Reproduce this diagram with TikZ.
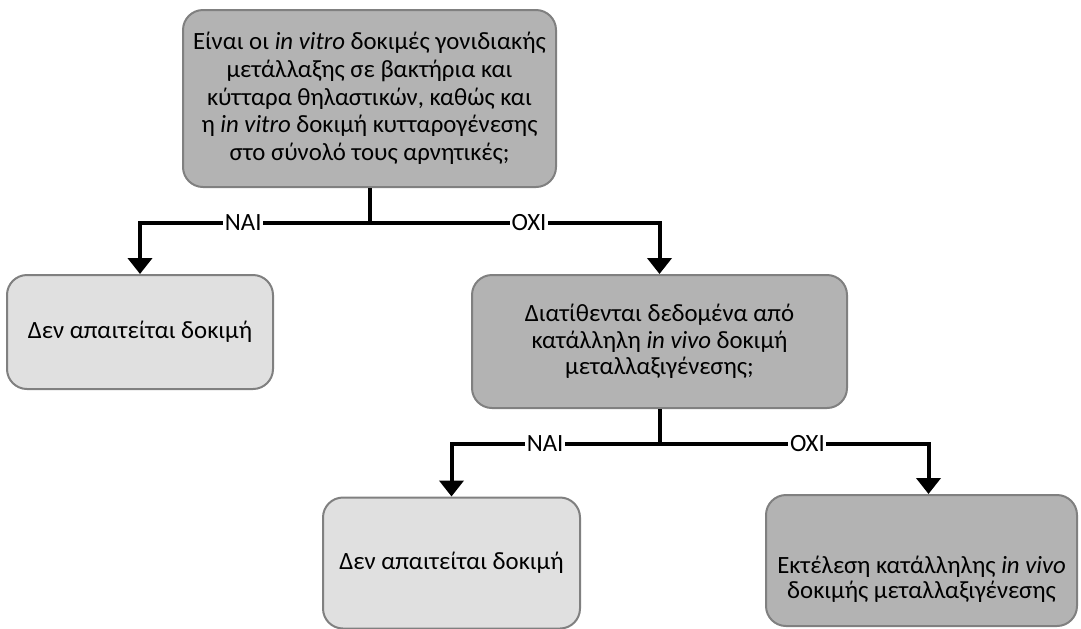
\documentclass[tikz,border=0pt]{standalone}
\usepackage{fontspec}
\setmainfont{Carlito}
\usetikzlibrary{arrows.meta, positioning}

\definecolor{boxdark}{RGB}{179,179,179}
\definecolor{boxlight}{RGB}{224,224,224}
\definecolor{boxline}{RGB}{128,128,128}

\tikzset{
  question/.style={draw=boxline, line width=1pt, rounded corners=10pt, fill=boxdark,
    align=center, inner sep=0pt, font=\fontsize{12.4pt}{13.85pt}\selectfont},
  result/.style={question, fill=boxlight},
  flow/.style={line width=2pt, -{Triangle[width=12pt,length=8pt]}},
  stem/.style={line width=2pt},
  answer/.style={fill=white, inner xsep=0.8pt, inner ysep=1pt, pos=0.275,
    font=\fontsize{12.4pt}{13pt}\selectfont}
}

\begin{document}
\begin{tikzpicture}[x=0.5pt, y=-0.5pt]
  \useasboundingbox (0,0) rectangle (1081,628);

  % Question boxes
  \node[question, minimum width=186.5pt, minimum height=88.5pt] (test) at (369.5,98.5)
    {Είναι οι \textit{in vitro} δοκιμές γονιδιακής\\
     μετάλλαξης σε βακτήρια και\\
     κύτταρα θηλαστικών, καθώς και\\
     η \textit{in vitro} δοκιμή κυτταρογένεσης\\
     στο σύνολό τους αρνητικές;};
  \node[question, minimum width=187.5pt, minimum height=66.5pt,
    font=\fontsize{12.4pt}{13.25pt}\selectfont] (invivo) at (659.5,341.5)
    {Διατίθενται δεδομένα από\\
     κατάλληλη \textit{in vivo} δοκιμή\\
     μεταλλαξιγένεσης;};

  % Outcome boxes
  \node[result, minimum width=133pt, minimum height=57pt] (none1) at (140,332)
    {Δεν απαιτείται δοκιμή};
  \node[result, minimum width=128.5pt, minimum height=65.5pt] (none2) at (451.5,563)
    {Δεν απαιτείται δοκιμή};
  \node[question, minimum width=155.5pt, minimum height=65.5pt,
    label={[align=center, yshift=-9.5pt, font=\fontsize{12.4pt}{12.6pt}\selectfont]center:{Εκτέλεση κατάλληλης \textit{in vivo}\\ δοκιμής μεταλλαξιγένεσης}}]
    (perform) at (921.5,560.5) {};

  % First split
  \draw[stem] (test.south) -- ++(0,35) coordinate (j1);
  \draw[flow] (j1) -| node[answer] {NAI} (none1.north);
  \draw[flow] (j1) -| node[answer] {OXI} (invivo.north);

  % Second split
  \draw[stem] (invivo.south) -- ++(0,35) coordinate (j2);
  \draw[flow] (j2) -| node[answer] {NAI} (none2.north);
  \draw[flow] (j2) -| node[answer] {OXI} ([xshift=3.5pt]perform.north);
\end{tikzpicture}
\end{document}
